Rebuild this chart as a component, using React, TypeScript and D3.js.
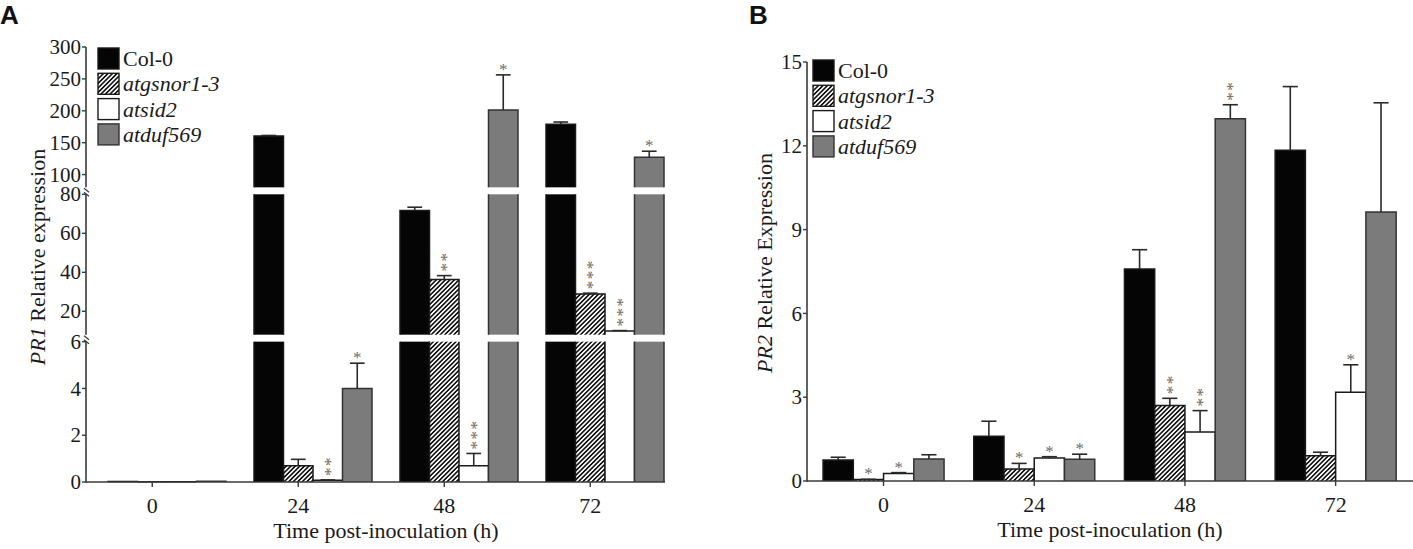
import * as d3 from 'd3'

const FONT = '"Liberation Serif", "Times New Roman", serif'

// shared categories
const times = ['0', '24', '48', '72']
const series = ['Col-0', 'atgsnor1-3', 'atsid2', 'atduf569']
const italicSeries = [false, true, true, true]

// panel A - PR1 (broken axis)
const pr1Col0 = [0.02, 160.5, 71.7, 178.9]
const pr1Gsnor = [0.01, 0.69, 36.3, 28.9]
const pr1Sid2 = [0.01, 0.07, 0.69, 9.9]
const pr1Duf = [0.03, 4.0, 201.3, 127.2]
const pr1Col0Err = [0, 0.8, 1.7, 3.5]
const pr1GsnorErr = [0, 0.28, 2.0, 0.4]
const pr1Sid2Err = [0, 0.02, 0.53, 0.2]
const pr1DufErr = [0, 1.08, 55, 9.4]
const pr1Sig = [
  ['', '', '', ''],
  ['', '', '**', '*'],
  ['', '**', '***', '*'],
  ['', '***', '***', '*'],
]
const pr1Segments = [
  { lo: 0, hi: 6, ticks: [0, 2, 4, 6] },
  { lo: 8, hi: 80, ticks: [20, 40, 60, 80] },
  { lo: 80, hi: 300, ticks: [100, 150, 200, 250, 300] },
]

// panel B - PR2
const pr2Col0 = [0.75, 1.6, 7.59, 11.84]
const pr2Gsnor = [0.05, 0.43, 2.7, 0.9]
const pr2Sid2 = [0.27, 0.82, 1.75, 3.18]
const pr2Duf = [0.79, 0.78, 12.97, 9.63]
const pr2Col0Err = [0.1, 0.54, 0.69, 2.28]
const pr2GsnorErr = [0.01, 0.2, 0.26, 0.13]
const pr2Sid2Err = [0.03, 0.05, 0.77, 0.98]
const pr2DufErr = [0.15, 0.18, 0.5, 3.91]
const pr2Sig = [
  ['', '*', '*', ''],
  ['', '*', '*', '*'],
  ['', '**', '**', '**'],
  ['', '', '*', ''],
]
const pr2Segments = [{ lo: 0, hi: 15, ticks: [0, 3, 6, 9, 12, 15] }]

const fills = ['#050505', 'url(#hatch)', '#ffffff', '#7b7b7b']
const strokes = ['#1a1a1a', '#1a1a1a', '#1a1a1a', '#333333']

type Seg = { lo: number, hi: number, ticks: number[] }

type PanelProps = {
  letter: string, letterX: number,
  axisX: number, axisRight: number, top: number, bottom: number, gap: number,
  groupRange: [number, number], padInner: number,
  segs: Seg[],
  means: number[][], errs: number[][], sigs: string[][],
  tickOnSeries: number | null,
  gene: string, ylabelRest: string, ylabelX: number, ylabelY: number,
  xlabelX: number,
  legendX: number, legendY: number
}

const Panel = (p: PanelProps) => {
  const n = p.segs.length
  const segH = (p.bottom - p.top - p.gap * (n - 1)) / n
  const scales = p.segs.map((s, i) => {
    const y0 = p.bottom - i * (segH + p.gap)
    return { ...s, y0, y1: y0 - segH, sc: d3.scaleLinear().domain([s.lo, s.hi]).range([y0, y0 - segH]) }
  })
  const segOf = (v: number) => {
    let found = scales[0]
    scales.forEach(s => { if (v >= s.lo) found = s })
    return found
  }

  const xg = d3.scaleBand().domain(times).range(p.groupRange)
    .paddingInner(p.padInner).paddingOuter(p.padInner / 2)
  const xs = d3.scaleBand().domain(series).range([0, xg.bandwidth()])
  const bw = xs.bandwidth()

  const tickX = (t: string) => p.tickOnSeries === null
    ? (xg(t) as number) + xg.bandwidth() / 2
    : (xg(t) as number) + (xs(series[p.tickOnSeries]) as number) + bw / 2

  const bars: any[] = []
  const errs: any[] = []
  const stars: any[] = []
  times.forEach((t, ti) => {
    series.forEach((s, si) => {
      const v = p.means[si][ti]
      const e = p.errs[si][ti]
      const x = (xg(t) as number) + (xs(s) as number)
      scales.forEach((sg, gi) => {
        if (v <= sg.lo && gi > 0) return
        const cut = v > sg.hi
        const yt = sg.sc(Math.min(v, sg.hi))
        const h = Math.max(0.3, sg.y0 - yt)
        const outline = cut
          ? `M${x},${sg.y0}V${yt}M${x + bw},${sg.y0}V${yt}`
          : `M${x},${sg.y0}V${yt}H${x + bw}V${sg.y0}`
        bars.push(<g key={`b${ti}${si}${gi}`}>
          <rect x={x} y={yt} width={bw} height={h} fill={fills[si]} />
          <path d={outline} fill="none" stroke={strokes[si]} strokeWidth={1.5} />
        </g>)
      })
      const sg = segOf(v)
      const yv = sg.sc(v)
      const ye = sg.sc(v + e)
      const cx = x + bw / 2
      if (e > 0) {
        errs.push(<g key={`e${ti}${si}`} stroke="#2a2a2a" strokeWidth={1.6}>
          <line x1={cx} x2={cx} y1={yv} y2={ye} />
          <line x1={cx - bw / 4} x2={cx + bw / 4} y1={ye} y2={ye} />
        </g>)
      }
      const sig = p.sigs[ti][si]
      if (sig.length === 1) {
        stars.push(<text key={`s${ti}${si}`} x={cx} y={ye} textAnchor="middle"
          fontSize={17} fill="#6e6e6e" fontFamily={FONT}>*</text>)
      } else if (sig.length > 1) {
        stars.push(<text key={`s${ti}${si}`} transform={`translate(${cx + 8},${ye - 4}) rotate(-90)`}
          fontSize={17} letterSpacing={1.5} fill="#6e6e6e" fontFamily={FONT}>{sig}</text>)
      }
    })
  })

  return (
    <g>
      <text x={p.letterX} y={24} fontFamily='"Liberation Sans", Arial, sans-serif' fontWeight="bold"
        fontSize={26} fill="#111">{p.letter}</text>
      {bars}
      {errs}
      {stars}
      {/* y axis pieces */}
      {scales.map((sg, i) => (
        <g key={`ax${i}`}>
          <line x1={p.axisX} x2={p.axisX} y1={sg.y0 + (i === 0 ? 0.8 : 0)} y2={sg.y1} stroke="#3a3a3a" strokeWidth={1.6} />
          {sg.ticks.map(t => (
            <g key={t}>
              <line x1={p.axisX - 4} x2={p.axisX} y1={sg.sc(t)} y2={sg.sc(t)} stroke="#3a3a3a" strokeWidth={1.4} />
              <text x={p.axisX - 5} y={sg.sc(t)} dy="0.34em" textAnchor="end" fontSize={21}
                fontFamily={FONT} fill="#1a1a1a">{t}</text>
            </g>
          ))}
          {i > 0 && [0, 1].map(k => (
            <line key={`br${k}`} x1={p.axisX - 2} x2={p.axisX + 3} y1={sg.y0 + 1 + k * 4} y2={sg.y0 + 5 + k * 4}
              stroke="#3a3a3a" strokeWidth={1.2} />
          ))}
        </g>
      ))}
      {/* x axis */}
      <line x1={p.axisX} x2={p.axisRight} y1={p.bottom} y2={p.bottom} stroke="#3a3a3a" strokeWidth={1.6} />
      {times.map(t => (
        <g key={`xt${t}`}>
          <line x1={tickX(t)} x2={tickX(t)} y1={p.bottom} y2={p.bottom + 5} stroke="#3a3a3a" strokeWidth={1.4} />
          <text x={tickX(t)} y={p.bottom + 31} textAnchor="middle" fontSize={22} fontFamily={FONT} fill="#1a1a1a">{t}</text>
        </g>
      ))}
      <text x={p.xlabelX} y={p.bottom + 56} textAnchor="middle" fontSize={22} fontFamily={FONT} fill="#1a1a1a">
        Time post-inoculation (h)
      </text>
      <text transform={`translate(${p.ylabelX},${p.ylabelY}) rotate(-90)`} textAnchor="middle" fontSize={22}
        fontFamily={FONT} fill="#1a1a1a">
        <tspan fontStyle="italic">{p.gene}</tspan> {p.ylabelRest}
      </text>
      {/* legend */}
      {series.map((s, i) => (
        <g key={`lg${i}`} transform={`translate(${p.legendX},${p.legendY + i * 25.3})`}>
          <rect x={0} y={0} width={21} height={21} fill={fills[i]} stroke={strokes[i]} strokeWidth={1.4} />
          <text x={25} y={18} fontSize={22} fontFamily={FONT} fill="#1a1a1a"
            fontStyle={italicSeries[i] ? 'italic' : 'normal'}>{s}</text>
        </g>
      ))}
    </g>
  )
}

export default function App() {
  return (
    <svg width={1413} height={549} style={{ position: 'absolute', left: 0, top: 0, background: '#fff', fontFamily: FONT }}>
      <defs>
        <pattern id="hatch" patternUnits="userSpaceOnUse" width={3.2} height={3.2} patternTransform="rotate(45)">
          <rect width={3.2} height={3.2} fill="#fff" />
          <rect width={1.6} height={3.2} fill="#111" />
        </pattern>
      </defs>
      <Panel letter="A" letterX={0}
        axisX={86} axisRight={665} top={47} bottom={482} gap={7}
        groupRange={[94, 678]} padInner={28 / 146}
        segs={pr1Segments}
        means={[pr1Col0, pr1Gsnor, pr1Sid2, pr1Duf]}
        errs={[pr1Col0Err, pr1GsnorErr, pr1Sid2Err, pr1DufErr]}
        sigs={pr1Sig} tickOnSeries={1}
        gene="PR1" ylabelRest="Relative expression" ylabelX={45} ylabelY={257}
        xlabelX={386} legendX={98} legendY={48} />
      <Panel letter="B" letterX={749}
        axisX={807} axisRight={1413} top={62} bottom={481} gap={0}
        groupRange={[808.2, 1411]} padInner={29.7 / 150.7}
        segs={pr2Segments}
        means={[pr2Col0, pr2Gsnor, pr2Sid2, pr2Duf]}
        errs={[pr2Col0Err, pr2GsnorErr, pr2Sid2Err, pr2DufErr]}
        sigs={pr2Sig} tickOnSeries={null}
        gene="PR2" ylabelRest="Relative Expression" ylabelX={772} ylabelY={263}
        xlabelX={1110} legendX={813} legendY={60} />
    </svg>
  )
}
